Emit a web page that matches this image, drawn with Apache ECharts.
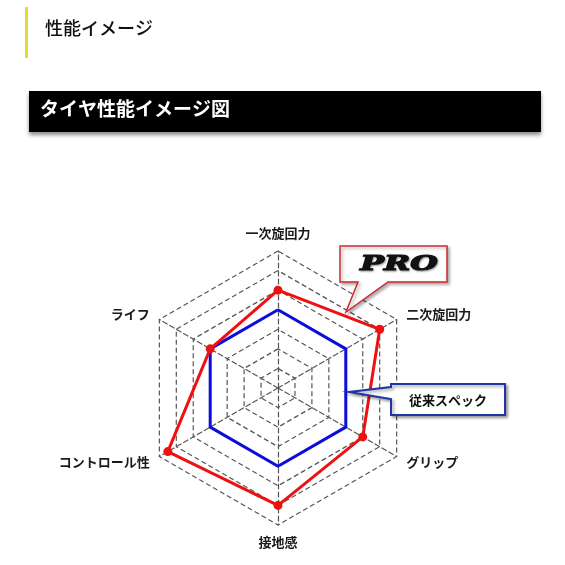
<!DOCTYPE html>
<html><head><meta charset="utf-8">
<script src="https://cdn.jsdelivr.net/npm/echarts@6/dist/echarts.min.js"></script>
<style>html,body{margin:0;padding:0;background:#fff}#c{width:565px;height:565px}</style>
</head><body><div id="c"></div>
<script>
// indicators in ECharts order (counter-clockwise from top)
var indicatorNames = ['一次旋回力', 'ライフ', 'コントロール性', '接地感', 'グリップ', '二次旋回力'];
var indicatorMax = 7;
var proValues = [5, 4, 6.5, 6, 5, 6];
var standardValues = [4, 4, 4, 4, 4, 4];
var pageTitle = '性能イメージ';
var barTitle = 'タイヤ性能イメージ図';
var proLabel = 'PRO';
var standardLabel = '従来スペック';

var FONT = '"Noto Sans CJK JP", "Noto Sans", sans-serif';
var chart = echarts.init(document.getElementById('c'), null, {renderer: 'canvas'});
chart.setOption({
  backgroundColor: '#fff',
  animation: false,
  radar: {
    center: [278, 388],
    radius: 137,
    startAngle: 90,
    splitNumber: 7,
    shape: 'polygon',
    nameGap: 11,
    indicator: indicatorNames.map(function (n) { return {name: n, max: indicatorMax, min: 0}; }),
    axisName: {color: '#1a1a1a', fontSize: 13, fontWeight: 'bold', fontFamily: FONT},
    splitLine: {lineStyle: {color: '#555', width: 1.2, type: [5, 3]}},
    splitArea: {show: false},
    axisLine: {lineStyle: {color: '#555', width: 1.2, type: [5, 3]}},
    axisTick: {show: false},
    axisLabel: {show: false}
  },
  series: [
    {
      type: 'radar',
      z: 2,
      symbol: 'none',
      lineStyle: {color: '#0c0cdc', width: 3},
      data: [{value: standardValues, name: standardLabel}]
    },
    {
      type: 'radar',
      z: 3,
      symbol: 'circle',
      symbolSize: 9,
      itemStyle: {color: '#ee1111'},
      lineStyle: {color: '#ee1111', width: 3},
      data: [{value: proValues, name: proLabel}]
    }
  ],
  graphic: [
    {type: 'rect', shape: {x: 25, y: 7, width: 3, height: 51}, style: {fill: '#e6dc2e'}},
    {type: 'text', left: 45, top: 19, style: {text: pageTitle, font: '500 18px ' + FONT, fill: '#111'}},
    {type: 'rect', shape: {x: 29, y: 91, width: 512, height: 41},
      style: {fill: '#000', shadowBlur: 4, shadowColor: 'rgba(0,0,0,0.45)', shadowOffsetY: 3}},
    {type: 'text', left: 40, top: 99, style: {text: barTitle, font: 'bold 19px ' + FONT, fill: '#fff'}},
    {type: 'polygon', z: 10,
      shape: {points: [[340, 246], [447, 246], [447, 282], [388, 282], [346, 312], [358, 282], [340, 282]]},
      style: {fill: '#fff', stroke: '#cc2a2f', lineWidth: 1.5,
        shadowBlur: 3, shadowColor: 'rgba(0,0,0,0.3)', shadowOffsetX: 2, shadowOffsetY: 2}},
    {type: 'text', z: 11, x: 399, y: 265, scaleX: 1.5, scaleY: 1,
      style: {text: proLabel, font: 'italic 900 21px "DejaVu Serif", serif', fill: '#111',
        align: 'center', verticalAlign: 'middle',
        stroke: '#111', lineWidth: 1.2,
        textShadowColor: 'rgba(0,0,0,0.35)', textShadowBlur: 2, textShadowOffsetX: 1, textShadowOffsetY: 1}},
    {type: 'polygon', z: 10,
      shape: {points: [[391, 384], [505, 384], [505, 415], [391, 415], [391, 399], [349, 392], [391, 387]]},
      style: {fill: '#fff', stroke: '#1e36a8', lineWidth: 2,
        shadowBlur: 3, shadowColor: 'rgba(0,0,0,0.35)', shadowOffsetX: 2, shadowOffsetY: 2}},
    {type: 'text', z: 11, x: 448, y: 400,
      style: {text: standardLabel, font: 'bold 13px ' + FONT, fill: '#111', align: 'center', verticalAlign: 'middle'}}
  ]
});
</script></body></html>
